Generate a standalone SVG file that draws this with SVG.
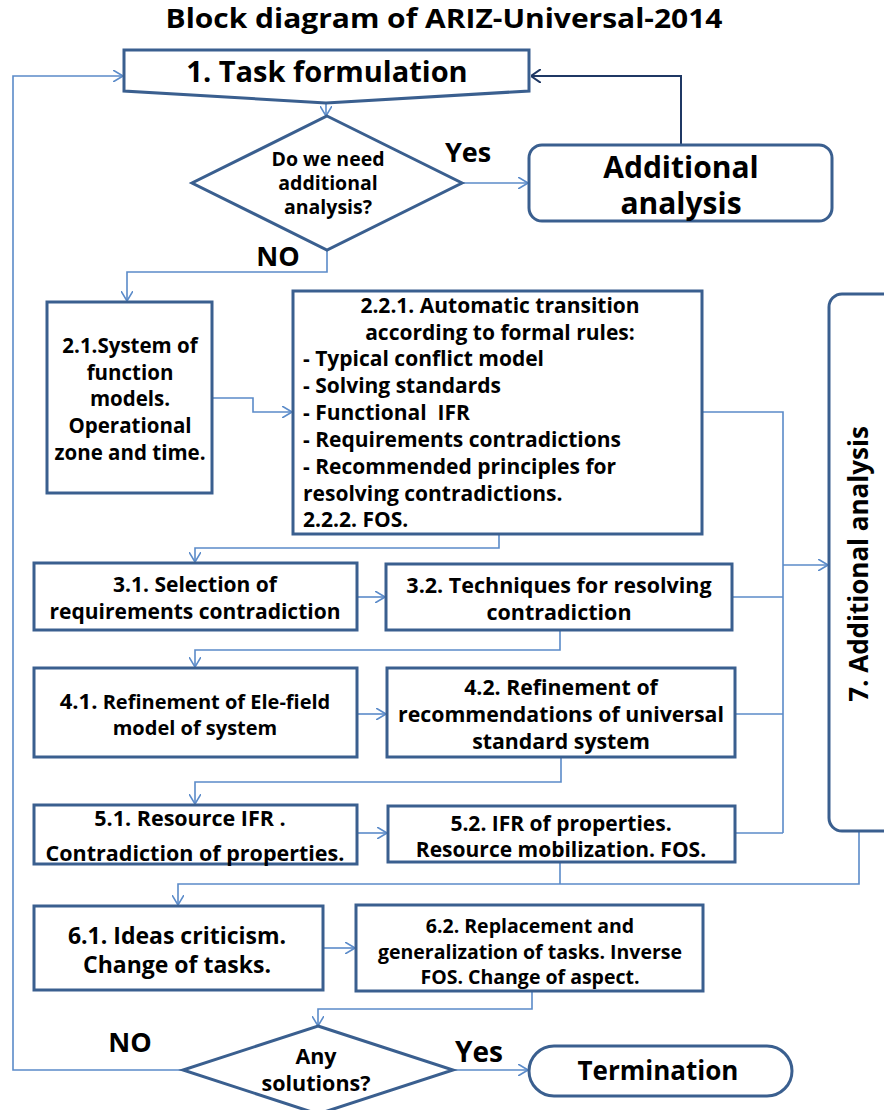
<svg xmlns="http://www.w3.org/2000/svg" width="884" height="1110" viewBox="0 0 884 1110">
<style>
.box{fill:#fff;stroke:#3A5F8F;stroke-width:3}
.c{fill:none;stroke:#5B8BC9;stroke-width:1.6}
.t{font-family:"Open Sans","Liberation Sans",sans-serif;font-weight:bold;fill:#000}
.m{text-anchor:middle}
</style>
<defs>
<marker id="a" viewBox="0 0 10 12" refX="10" refY="6" markerWidth="10" markerHeight="12" markerUnits="userSpaceOnUse" orient="auto"><path d="M0,0 L10,6 L0,12" fill="none" stroke="#5B8BC9" stroke-width="1.6"/></marker>
<marker id="ad" viewBox="0 0 10 14" refX="10" refY="7" markerWidth="10" markerHeight="14" markerUnits="userSpaceOnUse" orient="auto"><path d="M0,0 L10,7 L0,14" fill="none" stroke="#1F3864" stroke-width="2"/></marker>
</defs>
<rect width="884" height="1110" fill="#fff"/>
<text x="444" y="28" class="t m" style="font-size:26px" textLength="557" lengthAdjust="spacingAndGlyphs">Block diagram of ARIZ-Universal-2014</text>

<g id="connectors">
<path class="c" d="M326,90 V116" marker-end="url(#a)"/>
<path class="c" d="M462,183 H528" marker-end="url(#a)"/>
<path d="M681,145 V76 H531" fill="none" stroke="#1F3864" stroke-width="2" marker-end="url(#ad)"/>
<path class="c" d="M327,250 V272 H127 V301" marker-end="url(#a)"/>
<path class="c" d="M183,1070 H13 V76 H123" marker-end="url(#a)"/>
<path class="c" d="M212,398 H253 V412 H292" marker-end="url(#a)"/>
<path class="c" d="M702,412 H783 V833"/>
<path class="c" d="M783,565 H828" marker-end="url(#a)"/>
<path class="c" d="M732,597 H783"/>
<path class="c" d="M736,714 H783"/>
<path class="c" d="M736,833 H783"/>
<path class="c" d="M499,534 V548 H195 V562" marker-end="url(#a)"/>
<path class="c" d="M357,597 H385" marker-end="url(#a)"/>
<path class="c" d="M560,630 V650 H195 V667" marker-end="url(#a)"/>
<path class="c" d="M357,714 H386" marker-end="url(#a)"/>
<path class="c" d="M561,757 V782 H195 V804" marker-end="url(#a)"/>
<path class="c" d="M357,833 H387" marker-end="url(#a)"/>
<path class="c" d="M859,831 V884 H178 V905" marker-end="url(#a)"/>
<path class="c" d="M560,862 V884"/>
<path class="c" d="M323,948 H355" marker-end="url(#a)"/>
<path class="c" d="M532,991 V1009 H318 V1026" marker-end="url(#a)"/>
<path class="c" d="M453,1070 H528" marker-end="url(#a)"/>
</g>

<g id="n1">
<path class="box" d="M124,50 H529 V91 L326,103 L124,91 Z"/>
<text x="327" y="82" class="t m" style="font-size:29px">1. Task formulation</text>
</g>
<g id="d1">
<path class="box" d="M327,116 L462,183 L327,250 L192,183 Z"/>
<text class="t m" style="font-size:19.5px"><tspan x="328" y="166">Do we need</tspan><tspan x="328" y="190">additional</tspan><tspan x="328" y="214">analysis?</tspan></text>
</g>
<text x="468" y="162" class="t m" style="font-size:27px">Yes</text>
<text x="278" y="266" class="t m" style="font-size:27px">NO</text>
<g id="add">
<rect class="box" x="529" y="145" width="303" height="76" rx="13"/>
<text class="t m" style="font-size:30px"><tspan x="681" y="178">Additional</tspan><tspan x="681" y="214">analysis</tspan></text>
</g>
<g id="n21">
<rect class="box" x="47" y="302" width="165" height="191"/>
<text class="t m" style="font-size:20.5px"><tspan x="130" y="353">2.1.System of</tspan><tspan x="130" y="380">function</tspan><tspan x="130" y="406">models.</tspan><tspan x="130" y="433">Operational</tspan><tspan x="130" y="460">zone and time.</tspan></text>
</g>
<g id="n22">
<rect class="box" x="293" y="291" width="409" height="243"/>
<text class="t" style="font-size:21px"><tspan x="500" y="313" text-anchor="middle">2.2.1. Automatic transition</tspan><tspan x="500" y="340" text-anchor="middle">according to formal rules:</tspan><tspan x="303" y="366">- Typical conflict model</tspan><tspan x="303" y="393">- Solving standards</tspan><tspan x="303" y="420">- Functional&#160; IFR</tspan><tspan x="303" y="447">- Requirements contradictions</tspan><tspan x="303" y="474">- Recommended principles for</tspan><tspan x="303" y="501">resolving contradictions.</tspan><tspan x="303" y="527">2.2.2. FOS.</tspan></text>
</g>
<g id="n7">
<rect class="box" x="829" y="294" width="70" height="537" rx="13"/>
<text class="t m" transform="translate(868,564) rotate(-90)" style="font-size:26px">7. Additional analysis</text>
</g>
<g id="n31">
<rect class="box" x="34" y="563" width="323" height="67"/>
<text class="t m" style="font-size:21px"><tspan x="195" y="592">3.1. Selection of</tspan><tspan x="195" y="619">requirements contradiction</tspan></text>
</g>
<g id="n32">
<rect class="box" x="386" y="564" width="346" height="66"/>
<text class="t m" style="font-size:21.5px"><tspan x="559" y="593">3.2. Techniques for resolving</tspan><tspan x="559" y="620">contradiction</tspan></text>
</g>
<g id="n41">
<rect class="box" x="34" y="668" width="323" height="89"/>
<text class="t m" style="font-size:20px"><tspan x="195" y="709"><tspan style="font-size:22px">4.1.</tspan> Refinement of Ele-field</tspan><tspan x="195" y="735">model of system</tspan></text>
</g>
<g id="n42">
<rect class="box" x="387" y="668" width="348" height="89"/>
<text class="t m" style="font-size:21.3px"><tspan x="561" y="695">4.2. Refinement of</tspan><tspan x="561" y="722">recommendations of universal</tspan><tspan x="561" y="749">standard system</tspan></text>
</g>
<g id="n51">
<rect class="box" x="34" y="805" width="323" height="59"/>
<text class="t m" style="font-size:21.5px"><tspan x="190" y="826">5.1. Resource IFR .</tspan><tspan x="195" y="861">Contradiction of properties.</tspan></text>
</g>
<g id="n52">
<rect class="box" x="388" y="806" width="347" height="56"/>
<text class="t m" style="font-size:21px"><tspan x="561" y="831">5.2. IFR of properties.</tspan><tspan x="561" y="857">Resource mobilization. FOS.</tspan></text>
</g>
<g id="n61">
<rect class="box" x="34" y="906" width="289" height="84"/>
<text class="t m" style="font-size:23px"><tspan x="177" y="944">6.1. Ideas criticism.</tspan><tspan x="177" y="973">Change of tasks.</tspan></text>
</g>
<g id="n62">
<rect class="box" x="356" y="905" width="347" height="86"/>
<text class="t m" style="font-size:19.5px"><tspan x="530" y="933">6.2. Replacement and</tspan><tspan x="530" y="959">generalization of tasks. Inverse</tspan><tspan x="530" y="984">FOS. Change of aspect.</tspan></text>
</g>
<g id="d2">
<path class="box" d="M318,1026 L453,1070 L318,1114 L183,1070 Z"/>
<text class="t m" style="font-size:21.5px"><tspan x="316" y="1064">Any</tspan><tspan x="316" y="1091">solutions?</tspan></text>
</g>
<text x="130" y="1052" class="t m" style="font-size:27px">NO</text>
<text x="479" y="1062" class="t m" style="font-size:28px">Yes</text>
<g id="term">
<rect class="box" x="529" y="1046" width="263" height="50" rx="25"/>
<text x="658" y="1080" class="t m" style="font-size:26px">Termination</text>
</g>
</svg>
